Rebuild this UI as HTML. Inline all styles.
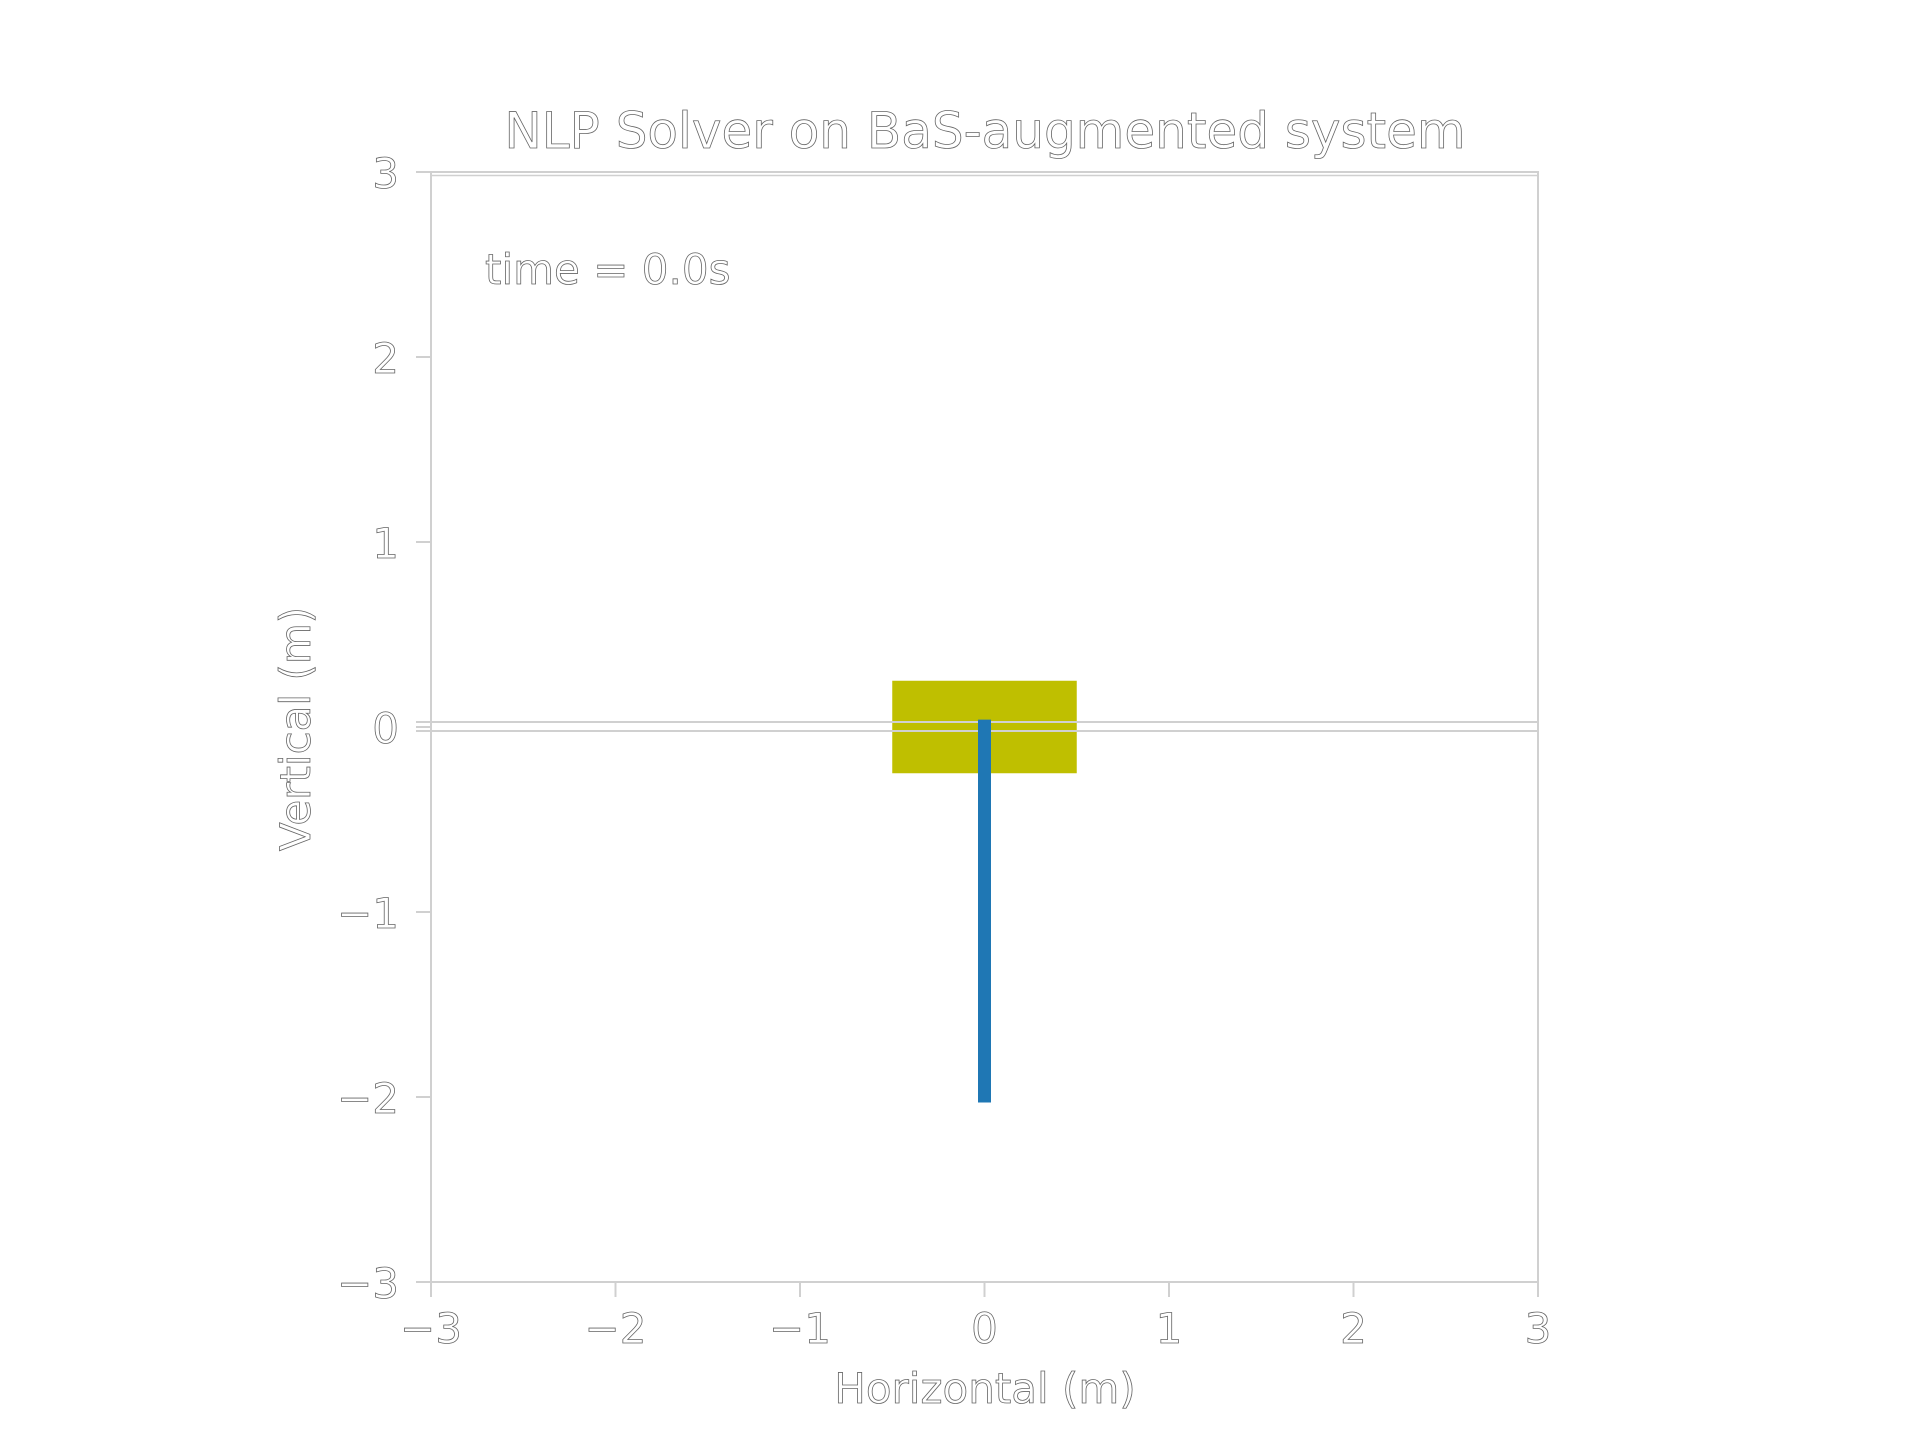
<!DOCTYPE html>
<html><head><meta charset="utf-8"><style>
html,body{margin:0;padding:0;background:#fff;}
svg text{font-family:"DejaVu Sans","Liberation Sans",sans-serif;fill:#fff;stroke:#666;stroke-width:0.8;}
</style></head><body>
<svg id="chart" width="1920" height="1440" viewBox="0 0 1920 1440" xmlns="http://www.w3.org/2000/svg">
<rect width="1920" height="1440" fill="#fff"/>
<g id="axes"></g>
<g id="marks"></g>
<text x="985" y="148" font-size="50" text-anchor="middle">NLP Solver on BaS-augmented system</text>
<text x="485" y="284" font-size="42">time = 0.0s</text>
<text x="985" y="1403" font-size="42" text-anchor="middle">Horizontal (m)</text>
<text x="0" y="0" font-size="42" text-anchor="middle" transform="translate(310,729) rotate(-90)">Vertical (m)</text>
</svg>
<script>
const xTicks=[-3,-2,-1,0,1,2,3];
const yTicks=[-3,-2,-1,0,1,2,3];
const cartX=[0];
const cartY=[0];
const cartSize=[1.0,0.5];
const poleX=[0,0];
const poleY=[0.04,-2.03];
const NS='http://www.w3.org/2000/svg';
const L=431,R=1538,T=172,B=1282;
const sx=v=>L+(v+3)/6*(R-L);
const sy=v=>B-(v+3)/6*(B-T);
function mk(tag,attrs,parent){const e=document.createElementNS(NS,tag);for(const k in attrs)e.setAttribute(k,attrs[k]);parent.appendChild(e);return e;}
const ax=document.getElementById('axes');
const marks=document.getElementById('marks');
const gc='#d0d0d0';
const frame=mk('rect',{x:L,y:T,width:R-L,height:B-T,fill:'none',stroke:gc,'stroke-width':2},ax);


const top2=mk('line',{x1:L,x2:R,y1:T+3.5,y2:T+3.5,stroke:gc,'stroke-width':1.5},ax);


xTicks.forEach(v=>{
  const x=sx(v);
  const t=mk('line',{x1:x,x2:x,y1:B,y2:B+15,stroke:gc,'stroke-width':2},ax);
  
  
  const lb=mk('text',{x:x,y:1343,'font-size':42,'text-anchor':'middle'},ax);
  lb.textContent=(v<0?'\u2212':'')+Math.abs(v);
  
  
});
yTicks.forEach(v=>{
  const y=sy(v);
  const t=mk('line',{x1:L-15,x2:L,y1:y,y2:y,stroke:gc,'stroke-width':2},ax);
  
  
  const lb=mk('text',{x:399,y:y+16,'font-size':42,'text-anchor':'end'},ax);
  lb.textContent=(v<0?'\u2212':'')+Math.abs(v);
  
  
});
cartX.forEach((cx,i)=>{
  const w=sx(cx+cartSize[0]/2)-sx(cx-cartSize[0]/2);
  const h=sy(cartY[i]-cartSize[1]/2)-sy(cartY[i]+cartSize[1]/2);
  const r=mk('rect',{x:sx(cx-cartSize[0]/2),y:sy(cartY[i]+cartSize[1]/2),width:w,height:h,fill:'#bfbf00'},marks);
  
  
});
[sy(0)-5,sy(0)+4].forEach(y=>{
  const l=mk('line',{x1:L-15,x2:R,y1:y,y2:y,stroke:gc,'stroke-width':2},marks);
  
  
});
const p=mk('line',{x1:sx(poleX[0]),x2:sx(poleX[1]),y1:sy(poleY[0]),y2:sy(poleY[1]),stroke:'#1f77b4','stroke-width':13},marks);


</script>
</body></html>
